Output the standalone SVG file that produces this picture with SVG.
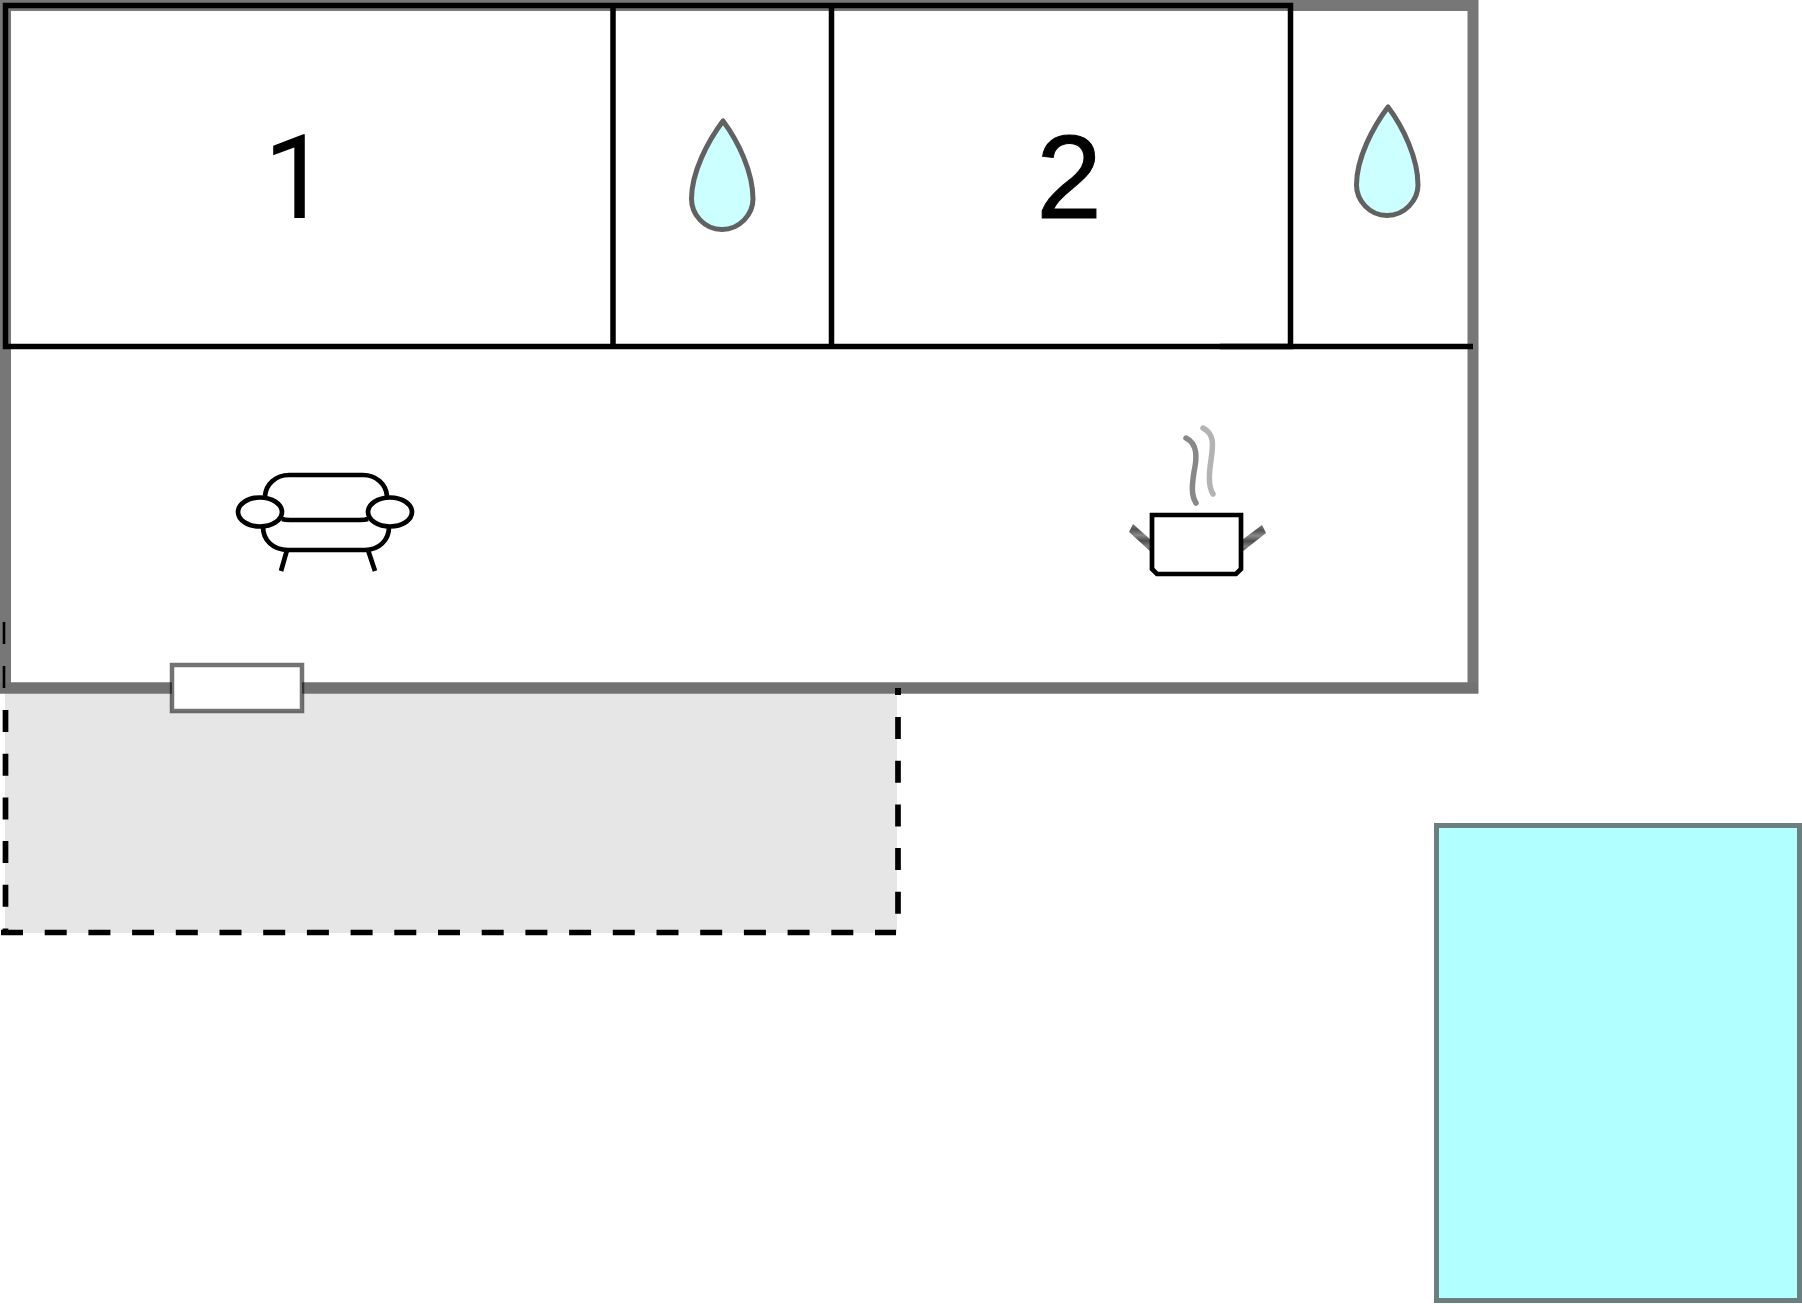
<svg xmlns="http://www.w3.org/2000/svg" width="1802" height="1304" viewBox="0 0 1802 1304">
<style>
.ln{fill:none;stroke:#000;stroke-width:4.700;stroke-linecap:butt}
.fl{fill:#fff;stroke:#000;stroke-width:4.700}
.wall{fill:none;stroke:#000;stroke-width:5.500}
.dash{fill:none;stroke:#000;stroke-width:5.700;stroke-dasharray:22 21.700}
.drop{fill:#ccffff;stroke:#616161;stroke-width:5;stroke-linejoin:round}
.num{font-family:"Liberation Sans",Arial,sans-serif;font-size:118px;text-anchor:middle;fill:#000;stroke:#000;stroke-width:1}
</style>
<defs>
<path id="dropShape" d="M723 121C708 141 691.500 172 691.500 199C691.500 214 704 229.500 722 229.500C740 229.500 753 214 753 199C753 172 738 141 723 121Z"/>
<linearGradient id="stripe" x1="0" y1="0" x2="0" y2="1">
<stop offset="0" stop-color="#777"/><stop offset=".2" stop-color="#555"/><stop offset=".4" stop-color="#888"/><stop offset=".6" stop-color="#4d4d4d"/><stop offset=".8" stop-color="#808080"/><stop offset="1" stop-color="#555"/>
</linearGradient>
</defs>
<rect width="1802" height="1304" fill="#fff"/>
<g id="terrace">
<rect x="5" y="690" width="892" height="243" fill="#e6e6e6"/>
<path class="dash" d="M5.500 710V932"/>
<path class="dash" d="M1 932.500H896"/>
<path class="dash" d="M898 717V932"/>
</g>
<g id="house">
<rect x="5.500" y="5.500" width="1467.500" height="682.500" fill="none" stroke="#777" stroke-width="11"/>
<path d="M0 688H1478" fill="none" stroke="#727272" stroke-width="11"/>
<path d="M4 622V644M4 666V688" fill="none" stroke="#000" stroke-width="2.600"/>
<path d="M895 688h6v7h-6z"/>
</g>
<g id="rooms">
<rect class="wall" x="5.500" y="5.500" width="1285" height="341"/>
<path class="wall" d="M613 5V346M831.500 5V346M1220 346.500H1473"/>
</g>
<g id="window">
<rect x="172" y="665" width="130" height="46" fill="#fff" stroke="#000" stroke-opacity=".55" stroke-width="4.500"/>
</g>
<g id="room-1"><text x="296" y="218" style="font-family:Roboto,'Liberation Sans',sans-serif;font-size:116px;text-anchor:middle;fill:#000">1</text></g>
<g id="bath-1"><use href="#dropShape" class="drop"/></g>
<g id="room-2"><text class="num" x="1069" y="218">2</text></g>
<g id="bath-2"><use href="#dropShape" class="drop" x="665" y="-14"/></g>
<g id="sofa">
<path class="ln" d="M265 496C266 484 276 475 289 475H363C376 475 386 484 387 496"/>
<path class="ln" d="M282 519Q285 520 290 520H360Q365 520 368 519"/>
<path class="ln" d="M263 527C263 540 273 550 288 550H365C379 550 389 540 389 527"/>
<path class="ln" d="M287 550L281 571M368 550L375 571"/>
<ellipse class="fl" cx="260" cy="512" rx="22" ry="14.500"/>
<ellipse class="fl" cx="390" cy="512" rx="22" ry="14.500"/>
</g>
<g id="pot">
<path d="M1151 552L1129 532L1133 524L1151 540Z" fill="url(#stripe)"/>
<path d="M1242 552L1266 533L1262 525L1242 540Z" fill="url(#stripe)"/>
<path d="M1186 438C1198 444 1197 458 1194 472C1192 485 1191 495 1196 503" fill="none" stroke="#888" stroke-width="5.500" stroke-linecap="round"/>
<path d="M1203 428C1215 434 1213 446 1211 460C1209 474 1208 486 1213 494" fill="none" stroke="#b3b3b3" stroke-width="5.500" stroke-linecap="round"/>
<path class="fl" d="M1152 515H1241V569L1236 574H1157L1152 569Z"/>
</g>
<g id="pool">
<rect x="1436.500" y="825.500" width="363" height="475" fill="#b2ffff" stroke="#6b7f7f" stroke-width="5"/>
</g>
</svg>
